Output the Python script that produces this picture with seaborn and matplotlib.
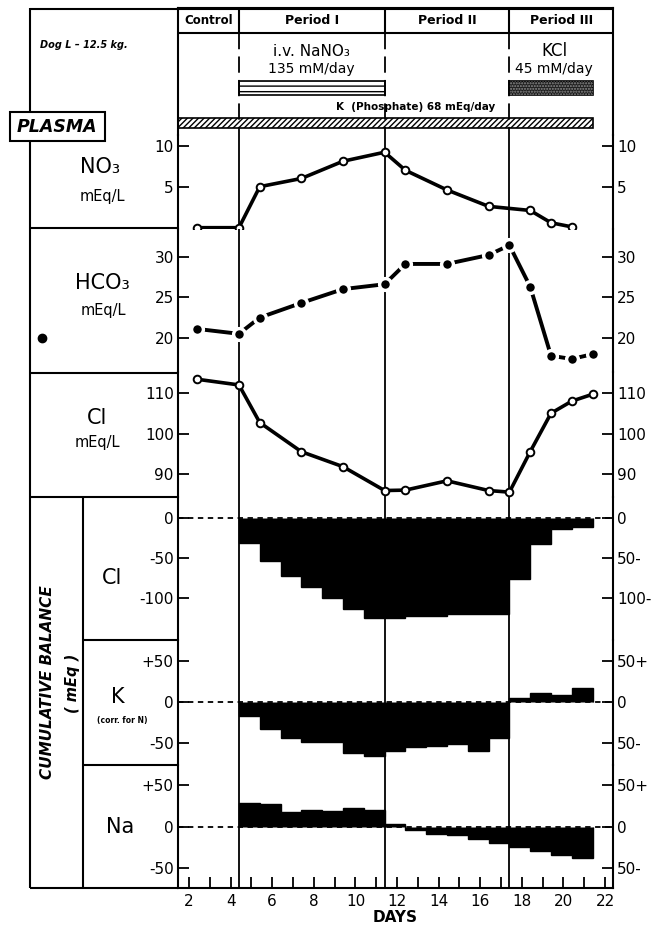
import matplotlib
matplotlib.use("Agg")
import matplotlib.pyplot as plt
import seaborn as sns
from matplotlib.patches import Rectangle

sns.set_style("ticks")
plt.rcParams["font.family"] = ["DejaVu Sans"]
for k in ["text.color", "axes.labelcolor", "xtick.color", "ytick.color", "axes.edgecolor"]:
    plt.rcParams[k] = "black"

# ---------------- data ----------------
period_names = ["Control", "Period I", "Period II", "Period III"]
period_edges = [4.4, 11.4, 17.4]

no3_days = [2.4, 4.4, 5.4, 7.4, 9.4, 11.4, 12.4, 14.4, 16.4, 18.4, 19.4, 20.4]
no3_vals = [0.0, 0.0, 5.0, 6.0, 8.1, 9.2, 7.0, 4.6, 2.6, 2.1, 0.6, 0.1]

hco3_days = [2.4, 4.4, 5.4, 7.4, 9.4, 11.4, 12.4, 14.4, 16.4, 17.4, 18.4, 19.4, 20.4, 21.4]
hco3_vals = [21.1, 20.5, 22.5, 24.3, 26.0, 26.6, 29.1, 29.1, 30.2, 31.4, 26.3, 17.8, 17.4, 18.0]

cl_days = [2.4, 4.4, 5.4, 7.4, 9.4, 11.4, 12.4, 14.4, 16.4, 17.4, 18.4, 19.4, 20.4, 21.4]
cl_vals = [113.5, 112.1, 102.8, 95.6, 91.9, 86.0, 86.1, 88.4, 86.0, 85.6, 95.6, 105.1, 108.1, 109.8]

bal_start_day = 4.4
bal_end_days = [5.4, 6.4, 7.4, 8.4, 9.4, 10.4, 11.4, 12.4, 13.4, 14.4, 15.4, 16.4, 17.4,
                18.4, 19.4, 20.4, 21.4]
cl_bal = [-31, -54, -72, -86, -100, -113, -125, -124.5, -122, -121.5, -119.5, -119.5, -119.5,
          -76, -33, -14, -11.5]
k_bal = [-17.5, -33, -44.7, -49.6, -49.6, -63, -66, -59.7, -55, -54, -52, -59.7, -44.7,
         4.9, 10.2, 7.8, 16.3]
na_bal = [28.2, 27, 18.1, 20.1, 18.9, 22.1, 20.1, 3.2, -4, -8.8, -10.4, -15.2, -20,
          -24.1, -28.9, -34.1, -37.3]

nano3_span = (4.4, 11.4)
kcl_span = (17.4, 21.4)
kphos_span = (1.47, 21.4)

x_ticks = [2, 4, 6, 8, 10, 12, 14, 16, 18, 20, 22]

# ---------------- layout helpers ----------------
W, H = 659, 932
fig = plt.figure(figsize=(W / 100, H / 100), dpi=100)
XL, XR = 178, 613
XLIM = (1.47, 22.38)
LW_AX = 1.5


def add_ax(top, bottom):
    ax = fig.add_axes([XL / W, 1 - bottom / H, (XR - XL) / W, (bottom - top) / H])
    ax.set_facecolor("none")
    ax.set_xlim(*XLIM)
    for s in ax.spines.values():
        s.set_linewidth(LW_AX)
        s.set_color("black")
    ax.spines["top"].set_visible(False)
    ax.spines["bottom"].set_visible(False)
    return ax


# background axes in pixel units for the label column / frame
bg = fig.add_axes([0, 0, 1, 1], zorder=-5)
bg.set_xlim(0, W)
bg.set_ylim(H, 0)
bg.axis("off")
lk = dict(color="black", lw=LW_AX, solid_capstyle="butt")
bg.plot([30, XR], [8.5, 8.5], **lk)
bg.plot([30, 30], [8, 112], **lk)
bg.plot([30, 30], [141, 888], **lk)
bg.plot([30, XL], [228, 228], **lk)
bg.plot([30, XL], [373, 373], **lk)
bg.plot([30, XL], [497, 497], **lk)
bg.plot([83, XL], [640, 640], **lk)
bg.plot([83, XL], [765, 765], **lk)
bg.plot([30, XL], [888, 888], **lk)
bg.plot([83, 83], [497, 888], **lk)
bg.add_patch(Rectangle((10, 112), 95, 29, fill=False, lw=LW_AX, ec="black"))
bg.text(57, 127, "PLASMA", ha="center", va="center", fontsize=12.5,
        fontweight="bold", fontstyle="italic")
bg.text(40, 45, "Dog L – 12.5 kg.", ha="left", va="center", fontsize=7,
        fontweight="bold", fontstyle="italic")

big = 15
small = 10.5
bg.text(100, 167, "NO₃", ha="center", va="center", fontsize=big)
bg.text(102, 197, "mEq/L", ha="center", va="center", fontsize=small)
bg.text(102, 283, "HCO₃", ha="center", va="center", fontsize=big)
bg.text(103, 311, "mEq/L", ha="center", va="center", fontsize=small)
bg.plot([42], [338], "o", color="black", ms=6)
bg.text(97, 418, "Cl", ha="center", va="center", fontsize=big)
bg.text(97, 443, "mEq/L", ha="center", va="center", fontsize=small)
bg.text(112, 578, "Cl", ha="center", va="center", fontsize=big)
bg.text(118, 697, "K", ha="center", va="center", fontsize=big)
bg.text(122, 720, "(corr. for N)", ha="center", va="center", fontsize=5.5,
        fontweight="bold")
bg.text(120, 827, "Na", ha="center", va="center", fontsize=big)
bg.text(48, 682, "CUMULATIVE BALANCE", ha="center", va="center", rotation=90,
        fontsize=11, fontweight="bold", fontstyle="italic")
bg.text(72, 683, "( mEq )", ha="center", va="center", rotation=90,
        fontsize=10.5, fontweight="bold", fontstyle="italic")

# ---------------- header axes ----------------
hd = add_ax(8, 135)
hd.spines["top"].set_visible(True)
hd.set_ylim(135, 8)
hd.set_xticks([])
hd.set_yticks([])
hd.axhline(33, color="black", lw=LW_AX)
hd.vlines(period_edges, 8, 33, color="black", lw=LW_AX)
hd.vlines(period_edges, 33, 135, color="black", lw=1.3, linestyles=(0, (9, 4)))
bounds = [XLIM[0]] + period_edges + [XLIM[1]]
for i, name in enumerate(period_names):
    hd.text((bounds[i] + bounds[i + 1]) / 2, 21, name, ha="center", va="center",
            fontsize=8.5 if i == 0 else 9, fontweight="bold")
hd.text(sum(nano3_span) / 2, 51, "i.v. NaNO₃", ha="center", va="center", fontsize=11)
hd.text(sum(nano3_span) / 2, 69, "135 mM/day", ha="center", va="center", fontsize=10)
hd.barh(88, nano3_span[1] - nano3_span[0], left=nano3_span[0], height=14,
        color="white", edgecolor="black", hatch="---", lw=1.2)
hd.text(19.55, 51, "KCl", ha="center", va="center", fontsize=12)
hd.text(19.55, 69, "45 mM/day", ha="center", va="center", fontsize=10)
hd.barh(88, kcl_span[1] - kcl_span[0], left=kcl_span[0], height=14,
        color="0.12", edgecolor="black", lw=1.2)
hd.barh(88, kcl_span[1] - kcl_span[0], left=kcl_span[0], height=14,
        color="none", edgecolor="0.55", hatch="......", lw=0)
hd.text(12.9, 107, "K  (Phosphate) 68 mEq/day", ha="center", va="center",
        fontsize=7.5, fontweight="bold")
hd.barh(123, kphos_span[1] - kphos_span[0], left=kphos_span[0], height=10,
        color="white", edgecolor="black", hatch="//////", lw=1.2)

# ---------------- data panels ----------------
panels = [
    (135, 229, (-0.16, 11.3), [5, 10], ["5", "10"], ["5", "10"]),
    (229, 372, (15.8, 33.4), [20, 25, 30], ["20", "25", "30"], ["20", "25", "30"]),
    (372, 497, (84.4, 115.3), [90, 100, 110], ["90", "100", "110"], ["90", "100", "110"]),
    (497, 640, (-151.7, 25.7), [-100, -50, 0], ["-100", "-50", "0"], ["100-", "50-", "0"]),
    (640, 765, (-77.2, 75.2), [-50, 0, 50], ["-50", "0", "+50"], ["50-", "0", "50+"]),
    (765, 888, (-73.9, 74.3), [-50, 0, 50], ["-50", "0", "+50"], ["50-", "0", "50+"]),
]
axes = []
for top, bot, ylim, ticks, llab, rlab in panels:
    ax = add_ax(top, bot)
    ax.set_ylim(*ylim)
    ax.set_yticks(ticks)
    ax.set_yticklabels(llab)
    ax.spines["right"].set_visible(False)
    ax.tick_params(axis="y", which="both", left=True, right=False, direction="in",
                   length=8, width=1.3, labelsize=11, pad=3)
    ax.tick_params(axis="x", which="both", bottom=False, top=False, labelbottom=False)
    ax2 = ax.twinx()
    ax2.set_ylim(*ylim)
    ax2.set_yticks(ticks)
    ax2.set_yticklabels(rlab)
    for s in ["top", "bottom", "left"]:
        ax2.spines[s].set_visible(False)
    ax2.spines["right"].set_linewidth(LW_AX)
    ax2.tick_params(axis="y", which="both", direction="in", length=8, width=1.3,
                    labelsize=11, pad=3)
    for e in period_edges:
        ax.axvline(e, color="black", lw=1.3, zorder=1)
    axes.append(ax)

ax_no3, ax_hco3, ax_cl, ax_clb, ax_kb, ax_nab = axes

line_kw = dict(color="black", lw=2.6, marker="o", markersize=5.5,
               markerfacecolor="white", markeredgecolor="black", markeredgewidth=1.4)
sns.lineplot(x=no3_days, y=no3_vals, ax=ax_no3, zorder=3, **line_kw)
sns.lineplot(x=cl_days, y=cl_vals, ax=ax_cl, zorder=3, **line_kw)
sns.lineplot(x=hco3_days, y=hco3_vals, ax=ax_hco3, zorder=3, color="black", lw=2.8,
             marker="o", markersize=8.5, markerfacecolor="black",
             markeredgecolor="white", markeredgewidth=2.4)

bal_edges = [bal_start_day] + bal_end_days
for ax, vals in [(ax_clb, cl_bal), (ax_kb, k_bal), (ax_nab, na_bal)]:
    ax.axhline(0, color="black", lw=1.3, ls=(0, (3, 2.5)), zorder=1)
    ax.stairs(vals, bal_edges, baseline=0, fill=True, facecolor="black",
              edgecolor="black", linewidth=1.0, zorder=2)

for ax in axes:
    ax.set_xlabel("")
    ax.set_ylabel("")
    ax.set_xlim(*XLIM)

ax_nab.spines["bottom"].set_visible(True)
ax_nab.set_xticks(x_ticks)
ax_nab.set_xticks(list(range(3, 22, 2)), minor=True)
ax_nab.tick_params(axis="x", which="both", bottom=True, labelbottom=True,
                   direction="in", length=8, width=1.3, labelsize=11, pad=4)
ax_nab.set_xlabel("DAYS", fontsize=11, fontweight="bold", labelpad=1)

fig.savefig("out.png", dpi=100)
